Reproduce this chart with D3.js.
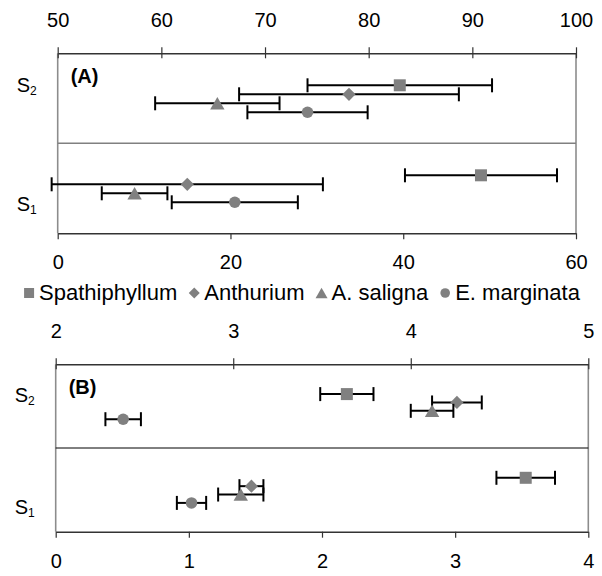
<!DOCTYPE html>
<meta charset="utf-8">
<script src="https://d3js.org/d3.v7.min.js"></script>
<style>
  body { margin: 0; background: #fff; }
  text { font-family: "Liberation Sans", Arial, sans-serif; fill: #000; }
</style>
<body>
<div id="my_dataviz"></div>
<script>
// series and categories
var series = ["Spathiphyllum", "Anthurium", "A. saligna", "E. marginata"];
var rows = ["S2", "S1"];

// panel (A): S2 read on the top axis, S1 on the bottom axis
var meanA_S2 = [83.0, 78.1, 65.4, 74.1];
var errA_S2 = [8.9, 10.6, 6.0, 5.8];
var meanA_S1 = [49.0, 15.0, 8.9, 20.5];
var errA_S1 = [8.8, 15.7, 3.8, 7.3];
var topTicksA = [50, 60, 70, 80, 90, 100];
var bottomTicksA = [0, 20, 40, 60];

// panel (B)
var meanB_S2 = [3.64, 4.26, 4.12, 2.38];
var errB_S2 = [0.15, 0.14, 0.12, 0.10];
var meanB_S1 = [3.53, 1.47, 1.39, 1.02];
var errB_S1 = [0.22, 0.09, 0.17, 0.11];
var topTicksB = [2, 3, 4, 5];
var bottomTicksB = [0, 1, 2, 3, 4];

var markerColor = "#808080";
var frameColor = "#8c8c8c";

var svg = d3.select("#my_dataviz")
  .append("svg")
  .attr("width", 602)
  .attr("height", 576);

// marker shapes, sized by hand to match
function marker(sel, name, s) {
  if (name === "Spathiphyllum") {
    sel.append("rect").attr("x", -s / 2).attr("y", -s / 2).attr("width", s).attr("height", s)
      .attr("fill", markerColor);
  } else if (name === "Anthurium") {
    var d = s * 0.55;
    sel.append("path").attr("d", "M0," + (-d) + "L" + d + ",0L0," + d + "L" + (-d) + ",0Z")
      .attr("fill", markerColor);
  } else if (name === "A. saligna") {
    var w = s * 0.6, h = s * 0.52;
    sel.append("path").attr("d", "M0," + (-h) + "L" + w + "," + h + "L" + (-w) + "," + h + "Z")
      .attr("fill", markerColor);
  } else {
    sel.append("circle").attr("r", s * 0.48).attr("fill", markerColor);
  }
}

function drawPanel(p) {
  var g = svg.append("g");
  var xTop = d3.scaleLinear().domain(d3.extent(p.topTicks)).range([p.x0, p.x1]);
  var xBottom = d3.scaleLinear().domain(d3.extent(p.bottomTicks)).range([p.x0, p.x1]);
  var y = d3.scaleBand().domain(rows).range([p.top, p.bottom]);
  var off = d3.scalePoint().domain(series).range([-0.15, 0.15]);
  var bw = y.bandwidth();

  // side lines of the frame
  g.append("line").attr("x1", p.x0).attr("x2", p.x0).attr("y1", p.top).attr("y2", p.bottom)
    .attr("stroke", frameColor).attr("stroke-width", 1.6);
  g.append("line").attr("x1", p.x1).attr("x2", p.x1).attr("y1", p.top).attr("y2", p.bottom)
    .attr("stroke", frameColor).attr("stroke-width", 1.6);
  // separator between S2 and S1
  g.append("line").attr("x1", p.x0).attr("x2", p.x1)
    .attr("y1", y("S1")).attr("y2", y("S1"))
    .attr("stroke", p.sepColor).attr("stroke-width", p.sepWidth);

  // top axis (ticks cross the line)
  var fmt = d3.format("d");
  var top = g.append("g").attr("transform", "translate(0," + p.top + ")")
    .call(d3.axisTop(xTop).tickValues(p.topTicks).tickFormat(fmt)
      .tickSize(6).tickSizeOuter(0).tickPadding(20.5));
  top.selectAll(".tick line").attr("y1", 5);
  var bottom = g.append("g").attr("transform", "translate(0," + p.bottom + ")")
    .call(d3.axisBottom(xBottom).tickValues(p.bottomTicks).tickFormat(fmt)
      .tickSize(6).tickSizeOuter(0).tickPadding(16));
  [top, bottom].forEach(function (a) {
    a.select(".domain").attr("stroke", "#333").attr("stroke-width", 1.6);
    a.selectAll(".tick line").attr("stroke", "#333").attr("stroke-width", 1.2);
    a.selectAll(".tick text").attr("font-size", "20px").attr("font-family", "Liberation Sans, Arial, sans-serif");
  });

  // row labels with subscript
  rows.forEach(function (r) {
    var t = g.append("text")
      .attr("x", p.x0 - 21)
      .attr("y", y(r) + bw / 2 + p.labelShift[r])
      .attr("text-anchor", "end")
      .attr("font-size", "20px");
    t.append("tspan").text("S");
    t.append("tspan").attr("font-size", "12px").attr("dy", 3).text(r.slice(1));
  });

  // panel letter
  g.append("text").attr("x", p.x0 + 13).attr("y", p.top + 30)
    .attr("font-size", "20px").attr("font-weight", "bold").text(p.letter);

  // points with error bars
  var pts = [];
  series.forEach(function (s, i) {
    pts.push({ s: s, row: "S2", m: p.meanS2[i], e: p.errS2[i], x: xTop });
    pts.push({ s: s, row: "S1", m: p.meanS1[i], e: p.errS1[i], x: xBottom });
  });
  var cap = 7;
  var eb = g.selectAll(".eb").data(pts).enter().append("g")
    .attr("transform", function (d) { return "translate(0," + (y(d.row) + bw / 2 + off(d.s) * bw + 0.5) + ")"; });
  eb.append("line")
    .attr("x1", function (d) { return d.x(d.m - d.e); })
    .attr("x2", function (d) { return d.x(d.m + d.e); })
    .attr("stroke", "#000").attr("stroke-width", 2);
  eb.append("line")
    .attr("x1", function (d) { return d.x(d.m - d.e); })
    .attr("x2", function (d) { return d.x(d.m - d.e); })
    .attr("y1", -cap).attr("y2", cap)
    .attr("stroke", "#000").attr("stroke-width", 2);
  eb.append("line")
    .attr("x1", function (d) { return d.x(d.m + d.e); })
    .attr("x2", function (d) { return d.x(d.m + d.e); })
    .attr("y1", -cap).attr("y2", cap)
    .attr("stroke", "#000").attr("stroke-width", 2);
  eb.each(function (d) {
    var mg = d3.select(this).append("g").attr("transform", "translate(" + d.x(d.m) + ",0)");
    marker(mg, d.s, 12);
  });
}

drawPanel({
  x0: 57.7, x1: 576, top: 53.3, bottom: 233.3,
  topTicks: topTicksA, bottomTicks: bottomTicksA,
  meanS2: meanA_S2, errS2: errA_S2, meanS1: meanA_S1, errS1: errA_S1,
  letter: "(A)", sepColor: "#808080", sepWidth: 1.6,
  labelShift: { S2: -6, S1: 23 }
});

drawPanel({
  x0: 55.7, x1: 588.3, top: 364.3, bottom: 531.7,
  topTicks: topTicksB, bottomTicks: bottomTicksB,
  meanS2: meanB_S2, errS2: errB_S2, meanS1: meanB_S1, errS1: errB_S1,
  letter: "(B)", sepColor: "#000", sepWidth: 1,
  labelShift: { S2: -4, S1: 24 }
});

// legend
var legendY = 300;
var legend = svg.append("g");
var lx = 0;
series.forEach(function (s, i) {
  var item = legend.append("g").attr("transform", "translate(" + lx + ",0)");
  var mg = item.append("g").attr("transform", "translate(5,-7)");
  marker(mg, s, 10);
  var t = item.append("text").attr("x", 15).attr("font-size", "22px").text(s);
  lx += 15 + t.node().getComputedTextLength() + 12;
});
lx -= 12;
legend.attr("transform", "translate(" + ((602 - lx) / 2 + 1) + "," + legendY + ")");
</script>
</body>
